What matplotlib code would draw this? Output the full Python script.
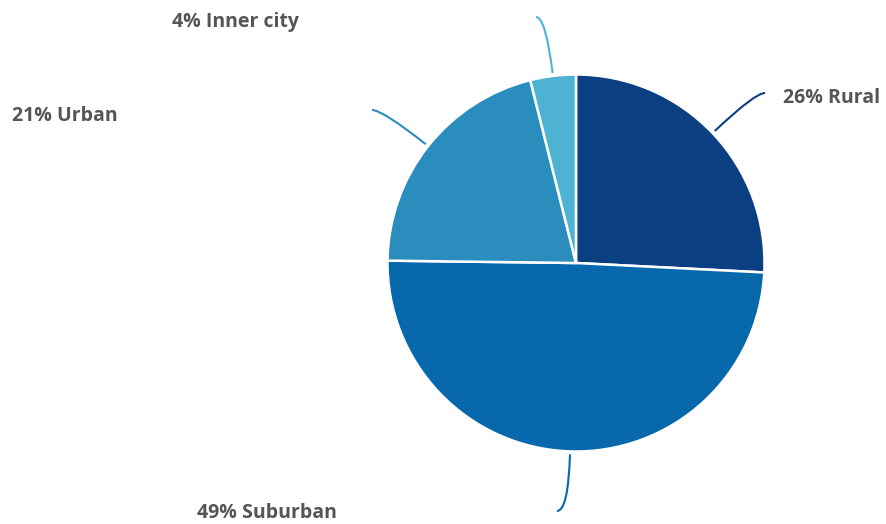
import numpy as np
import matplotlib
matplotlib.use("Agg")
import matplotlib.pyplot as plt
from matplotlib.path import Path
from matplotlib.patches import PathPatch

categories = ["Rural", "Suburban", "Urban", "Inner city"]
values = [25.8, 49.4, 20.9, 3.9]
colors = ["#0a4082", "#0868ac", "#2b8cbe", "#4eb3d3"]

# layout (pixel coordinates, y downwards)
W, H = 887, 524
center = (576, 263)
radius = 188.5
line_ends = [(765, 93), (557, 511), (372, 110), (536, 17)]
label_pos = [(783, 98), (197, 513), (12, 116), (172, 22)]

plt.rcParams['font.family'] = ['Open Sans', 'DejaVu Sans']

fig = plt.figure(figsize=(W / 100, H / 100), dpi=100)
ax = fig.add_axes([0, 0, 1, 1])

# y axis inverted: startangle -90 points up, counterclock=True runs clockwise on screen
wedges, _ = ax.pie(values, colors=colors, center=center, radius=radius,
                   startangle=-90, counterclock=True,
                   wedgeprops=dict(edgecolor='white', linewidth=1.8))
ax.set_xlim(0, W)
ax.set_ylim(H, 0)
ax.set_aspect('equal')
ax.axis('off')

for w, val, name, col, end, lp in zip(wedges, values, categories, colors, line_ends, label_pos):
    mid = np.deg2rad((w.theta1 + w.theta2) / 2)
    dx, dy = np.cos(mid), np.sin(mid)
    r0 = radius + 3
    sx, sy = center[0] + r0 * dx, center[1] + r0 * dy
    t = (end[1] - sy) / dy if abs(dy) > 1e-6 else 0
    cx, cy = sx + t * dx, end[1]
    path = Path([(sx, sy), (cx, cy), end], [Path.MOVETO, Path.CURVE3, Path.CURVE3])
    ax.add_patch(PathPatch(path, facecolor='none', edgecolor=col, linewidth=1.5))
    ax.text(lp[0], lp[1], f"{round(val)}% {name}", ha='left', va='center',
            fontsize=14, fontweight='bold', color='#555555')

fig.savefig("out.png", dpi=100)
